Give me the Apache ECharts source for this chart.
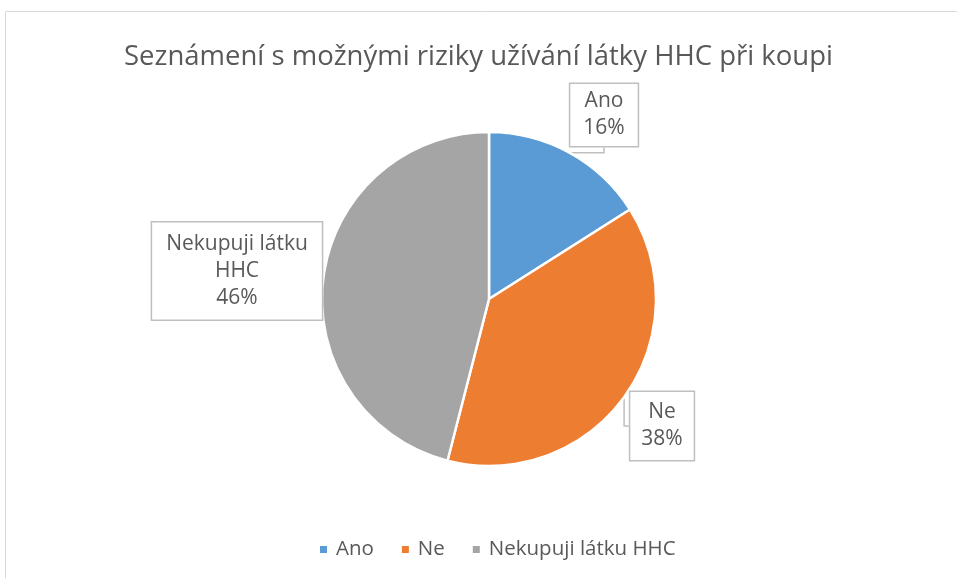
<!DOCTYPE html>
<html><head><meta charset="utf-8">
<script src="https://cdn.jsdelivr.net/npm/echarts@6/dist/echarts.min.js"></script>
<style>html,body{margin:0;padding:0;background:#fff}#c{width:957px;height:578px}</style>
</head><body><div id="c"></div>
<script>
const titleText = 'Seznámení s možnými riziky užívání látky HHC při koupi';
const categories = ['Ano', 'Ne', 'Nekupuji látku HHC'];
const values = [16, 38, 46];
const colors = ['#5b9bd5', '#ed7d31', '#a5a5a5'];
const labelCenters = [[604, 115], [662, 426], [237, 271]];
const labelPads = [[4, 13], [7, 11], [8, 14]];

const chart = echarts.init(document.getElementById('c'));
const FONT = 'Open Sans';
chart.setOption({
  animation: false,
  color: colors,
  title: {
    text: titleText, left: 'center', top: 38,
    textStyle: { fontFamily: FONT, fontSize: 27.5, fontWeight: 'normal', color: '#595959' }
  },
  legend: {
    bottom: 13, left: 313, itemWidth: 9, itemHeight: 9, itemGap: 26, icon: 'rect',
    textStyle: { fontFamily: FONT, fontSize: 20.5, color: '#595959', padding: [0, 0, 0, 3] }
  },
  graphic: [{
    type: 'rect', shape: { x: 5.5, y: 11.5, width: 1000, height: 600 },
    style: { fill: 'none', stroke: '#d9d9d9', lineWidth: 1 }, silent: true
  }],
  series: [{
    type: 'pie', center: [489, 299], radius: 167, startAngle: 90, clockwise: true,
    itemStyle: { borderColor: '#fff', borderWidth: 2.5 },
    data: categories.map((n, i) => ({ name: n, value: values[i], label: { padding: labelPads[i] } })),
    label: {
      show: true, position: 'outside',
      formatter: p => {
        let n = p.name;
        if (n.length > 14) { const k = n.lastIndexOf(' '); n = n.slice(0, k) + '\n' + n.slice(k + 1); }
        return n + '\n' + Math.round(p.percent) + '%';
      },
      fontFamily: FONT, fontSize: 21, color: '#595959', lineHeight: 27, align: 'center',
      backgroundColor: '#fff', borderColor: '#bfbfbf', borderWidth: 1.5
    },
    labelLine: { show: true, length: 10, length2: 10, lineStyle: { color: '#bfbfbf', width: 1.5 } },
    labelLayout: p => ({ x: labelCenters[p.dataIndex][0], y: labelCenters[p.dataIndex][1], align: 'center', verticalAlign: 'middle' })
  }]
});
</script></body></html>
